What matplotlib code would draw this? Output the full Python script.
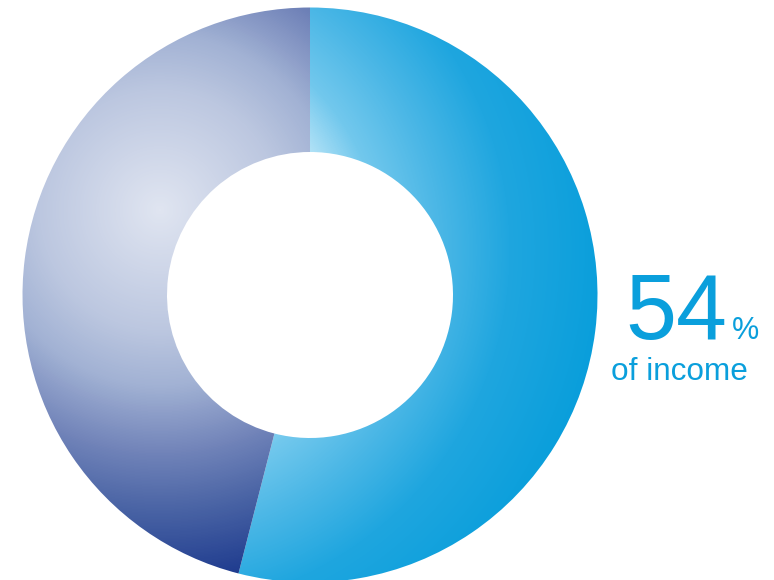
import numpy as np
import matplotlib
matplotlib.use("Agg")
import matplotlib.pyplot as plt
from matplotlib.colors import LinearSegmentedColormap

# share of income
labels = ["income", "other"]
values = [54, 46]
big_label = "54"
sub_label = "of income"

W, H = 774, 580
cx, cy = 310, H - 295
r_out, r_in = 287.5, 143


def ramp(name, stops, d0, d1):
    # colour stops given as distances from the light spot
    return LinearSegmentedColormap.from_list(
        name, [((d - d0) / (d1 - d0), c) for d, c in stops])


blue_stops = [(180, "#bce6f8"), (230, "#72c8ed"), (290, "#4bb7e6"),
              (360, "#1fa6df"), (460, "#089edb")]
navy_stops = [(0, "#e0e5f1"), (120, "#bcc7e0"), (175, "#a2b2d4"),
              (240, "#7385ba"), (300, "#4a64a5"), (380, "#1a378c")]

fig = plt.figure(figsize=(W / 100, H / 100), dpi=100)
ax = fig.add_axes([0, 0, 1, 1])

wedges, _ = ax.pie(values, startangle=90, counterclock=False,
                   center=(cx, cy), radius=r_out,
                   wedgeprops=dict(width=r_out - r_in, linewidth=0, facecolor="none"))
ax.set_xlim(0, W)
ax.set_ylim(0, H)
ax.set_aspect("equal")
ax.axis("off")

xs = np.arange(W) + 0.5
ys = np.arange(H) + 0.5
X, Y = np.meshgrid(xs, ys)

# radial fills, each with its own light spot
fills = [((150, H - 250), blue_stops, 180, 460),
         ((160, H - 210), navy_stops, 0, 380)]
for i, (w, (focus, stops, d0, d1)) in enumerate(zip(wedges, fills)):
    cm = ramp("fill%d" % i, stops, d0, d1)
    d = np.hypot(X - focus[0], Y - focus[1])
    rgb = cm(np.clip((d - d0) / (d1 - d0), 0, 1))
    im = ax.imshow(rgb, origin="lower", extent=(0, W, 0, H),
                   interpolation="bilinear", zorder=1)
    im.set_clip_path(w)

txt_color = "#0a9fdc"
ax.text(625, H - 339, big_label, fontsize=66, color=txt_color,
        family="Liberation Sans", ha="left", va="baseline")
ax.text(732, H - 339, "%", fontsize=22, color=txt_color,
        family="Liberation Sans", ha="left", va="baseline")
ax.text(611, H - 380, sub_label, fontsize=22.7, color=txt_color,
        family="Liberation Sans", ha="left", va="baseline")

fig.savefig("out.png", dpi=100)
